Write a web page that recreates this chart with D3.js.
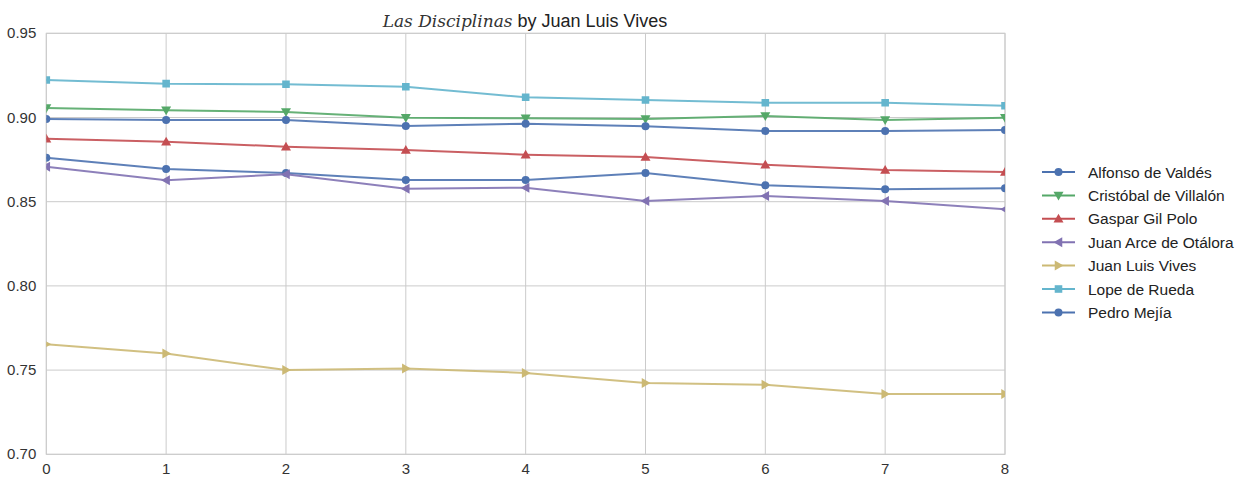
<!DOCTYPE html>
<html>
<head>
<meta charset="utf-8">
<script src="https://cdn.jsdelivr.net/npm/d3@7"></script>
<style>
  body { margin: 0; background: #fff; }
  svg { display: block; font-family: "Liberation Sans", Arial, sans-serif; }
</style>
</head>
<body>
<svg id="chart"></svg>
<script>
const width = 1245;
const height = 478;

const xTicks = [0, 1, 2, 3, 4, 5, 6, 7, 8];
const yTicks = [0.70, 0.75, 0.80, 0.85, 0.90, 0.95];

const names = ["Alfonso de Valdés", "Cristóbal de Villalón", "Gaspar Gil Polo",
  "Juan Arce de Otálora", "Juan Luis Vives", "Lope de Rueda", "Pedro Mejía"];

const valdes  = [0.8761, 0.8694, 0.8670, 0.8629, 0.8629, 0.8670, 0.8597, 0.8574, 0.8580];
const villalon = [0.9056, 0.9043, 0.9033, 0.8999, 0.8995, 0.8991, 0.9009, 0.8985, 0.8999];
const gilPolo = [0.8874, 0.8856, 0.8827, 0.8807, 0.8779, 0.8765, 0.8720, 0.8688, 0.8676];
const arce    = [0.8708, 0.8627, 0.8663, 0.8577, 0.8583, 0.8504, 0.8534, 0.8504, 0.8455];
const vives   = [0.7653, 0.7598, 0.7500, 0.7510, 0.7483, 0.7423, 0.7413, 0.7358, 0.7358];
const rueda   = [0.9223, 0.9201, 0.9197, 0.9183, 0.9120, 0.9104, 0.9088, 0.9088, 0.9070];
const mejia   = [0.8991, 0.8985, 0.8985, 0.8949, 0.8963, 0.8948, 0.8920, 0.8920, 0.8926];

const allValues = [valdes, villalon, gilPolo, arce, vives, rueda, mejia];
const colors = ["#4C72B0", "#55A868", "#C44E52", "#8172B2", "#CCB974", "#64B5CD", "#4C72B0"];
const markers = ["circle", "triDown", "triUp", "triLeft", "triRight", "square", "circle"];

const series = names.map((n, i) => ({
  name: n, values: allValues[i], color: colors[i], marker: markers[i]
}));

const margin = {top: 33.3, left: 46.3};
const plotW = 1005 - margin.left;
const plotH = 454.3 - margin.top;

const x = d3.scaleLinear().domain([0, 8]).range([margin.left, margin.left + plotW]);
const y = d3.scaleLinear().domain([0.70, 0.95]).range([margin.top + plotH, margin.top]);

const svg = d3.select("#chart")
  .attr("width", width)
  .attr("height", height);

// grid
svg.append("g")
  .selectAll("line")
  .data(xTicks)
  .join("line")
  .attr("x1", d => x(d)).attr("x2", d => x(d))
  .attr("y1", y(0.70)).attr("y2", y(0.95))
  .attr("stroke", "#cbcbcb").attr("stroke-width", 1);

svg.append("g")
  .selectAll("line")
  .data(yTicks)
  .join("line")
  .attr("x1", x(0)).attr("x2", x(8))
  .attr("y1", d => y(d)).attr("y2", d => y(d))
  .attr("stroke", "#cbcbcb").attr("stroke-width", 1);

svg.append("rect")
  .attr("x", x(0)).attr("y", y(0.95))
  .attr("width", plotW).attr("height", plotH)
  .attr("fill", "none").attr("stroke", "#cbcbcb");

// tick labels
svg.append("g")
  .selectAll("text")
  .data(xTicks)
  .join("text")
  .attr("x", d => x(d))
  .attr("y", y(0.70) + 20)
  .attr("text-anchor", "middle")
  .attr("font-size", 15)
  .attr("fill", "#333")
  .text(d => d);

svg.append("g")
  .selectAll("text")
  .data(yTicks)
  .join("text")
  .attr("x", x(0) - 10)
  .attr("y", d => y(d) + 5)
  .attr("text-anchor", "end")
  .attr("font-size", 15)
  .attr("fill", "#333")
  .text(d => d3.format(".2f")(d));

// title
const title = svg.append("text")
  .attr("x", 525).attr("y", 26.5)
  .attr("text-anchor", "middle")
  .attr("font-size", 18)
  .attr("fill", "#222");
title.append("tspan")
  .attr("font-family", "'DejaVu Serif', 'Liberation Serif', serif")
  .attr("font-style", "italic")
  .attr("font-size", 17)
  .attr("fill", "#333")
  .text("Las Disciplinas");
title.append("tspan").text(" by Juan Luis Vives");

// marker shapes
function markerPath(type, s) {
  if (type === "circle") return d3.symbol(d3.symbolCircle, s * s * 3.14)();
  if (type === "square") return d3.symbol(d3.symbolSquare, s * s * 3.6)();
  const t = s * 1.25;
  const tri = {
    triUp: [[0, -t], [t, t * 0.75], [-t, t * 0.75]],
    triDown: [[0, t], [t, -t * 0.75], [-t, -t * 0.75]],
    triLeft: [[-t, 0], [t * 0.75, -t], [t * 0.75, t]],
    triRight: [[t, 0], [-t * 0.75, -t], [-t * 0.75, t]]
  }[type];
  return "M" + tri.map(p => p.join(",")).join("L") + "Z";
}

svg.append("clipPath").attr("id", "clip")
  .append("rect")
  .attr("x", x(0)).attr("y", y(0.95))
  .attr("width", plotW).attr("height", plotH);

const plot = svg.append("g").attr("clip-path", "url(#clip)");

const line = d3.line()
  .x((d, i) => x(xTicks[i]))
  .y(d => y(d));

const lineGroups = plot.selectAll("g.series")
  .data(series)
  .join("g")
  .attr("class", "series");

lineGroups.append("path")
  .attr("d", d => line(d.values))
  .attr("fill", "none")
  .attr("stroke", d => d.color)
  .attr("stroke-width", 2)
  .attr("opacity", 0.9);

lineGroups.each(function(s) {
  d3.select(this).selectAll("path.mk")
    .data(s.values)
    .join("path")
    .attr("class", "mk")
    .attr("transform", (d, i) => `translate(${x(xTicks[i])},${y(d)})`)
    .attr("d", markerPath(s.marker, 4))
    .attr("fill", s.color);
});

// legend
const legend = svg.append("g")
  .attr("transform", "translate(1042,172)");

const item = legend.selectAll("g")
  .data(series)
  .join("g")
  .attr("transform", (d, i) => `translate(0,${i * 23.4})`);

item.append("line")
  .attr("x1", 0).attr("x2", 33)
  .attr("stroke", d => d.color)
  .attr("stroke-width", 2);

item.append("path")
  .attr("transform", "translate(16.5,0)")
  .attr("d", d => markerPath(d.marker, 4))
  .attr("fill", d => d.color);

item.append("text")
  .attr("x", 46)
  .attr("y", 5.5)
  .attr("font-size", 15.5)
  .attr("fill", "#222")
  .text(d => d.name);
</script>
</body>
</html>
